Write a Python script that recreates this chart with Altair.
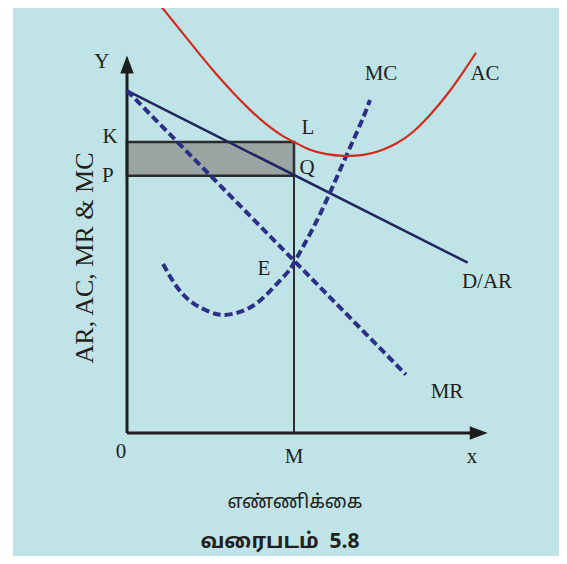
import altair as alt
import pandas as pd

# ---- values (economic units: quantity q, price p) ----
ar_q = [0.0, 20.4]
ar_p = [20.5, 10.2]

mr_q = [0.0, 16.7]
mr_p = [20.5, 3.5]

mc_q = [2.16, 2.99, 3.95, 4.97, 5.75, 6.77, 7.78, 8.74, 9.58, 10.0, 11.0, 12.0, 13.0, 14.0, 14.55]
mc_p = [10.12, 8.74, 7.78, 7.25, 7.07, 7.25, 7.78, 8.68, 9.58, 10.2, 12.0, 14.05, 16.3, 18.55, 19.94]

ac_q = [2.08, 3.37, 4.37, 5.37, 6.37, 7.37, 8.37, 9.36, 10.0, 10.96, 11.96, 12.95, 14.15,
        15.15, 16.15, 17.14, 18.14, 19.14, 20.14, 20.90]
ac_p = [25.5, 23.9, 22.66, 21.47, 20.36, 19.35, 18.46, 17.76, 17.43, 16.96, 16.70, 16.60, 16.65,
        16.90, 17.35, 18.04, 19.04, 20.24, 21.63, 22.77]

M_q = 10.0
K_p = 17.43
P_p = 15.4
y_axis_tip = 22.6
x_axis_tip = 21.6

point_labels = ["Y", "K", "P", "0", "M", "x", "L", "Q", "E", "MC", "AC", "D/AR", "MR"]
label_q = [-1.50, -1.02, -1.14, -0.36, 10.0, 20.66, 10.84, 10.78, 8.2, 15.21, 21.44, 21.56, 19.16]
label_p = [22.22, 17.72, 15.39, -1.14, -1.44, -1.44, 18.26, 15.87, 9.82, 21.5, 21.5, 9.04, 2.46]

y_title = "AR, AC, MR & MC"
x_title = "எண்ணிக்கை"
fig_title = "வரைபடம்\u00a0\u00a05.8"

# ---- layout ----
W, H = 551, 548
ORIGIN_X, ORIGIN_Y, UNIT = 119, 425, 16.7
xs = alt.Scale(domain=[-ORIGIN_X / UNIT, (W - ORIGIN_X) / UNIT], nice=False, zero=False)
ys = alt.Scale(domain=[-(H - ORIGIN_Y) / UNIT, ORIGIN_Y / UNIT], nice=False, zero=False)

NAVY = "#2b2f86"
DARK = "#1e1e1e"
TXT = "#231f20"
SERIF = "Liberation Serif"
TAMIL = "Noto Sans Tamil, Noto Serif Tamil, Noto Sans, sans-serif"
ARROW_LEN = 18 / UNIT


def X(f="q"):
    return alt.X(f + ":Q", scale=xs, axis=None)


def Y(f="p"):
    return alt.Y(f + ":Q", scale=ys, axis=None)


dummy = pd.DataFrame({"a": [0]})

strip = alt.Chart(dummy).mark_rect(color="white").encode(
    x=alt.value(0), x2=alt.value(5), y=alt.value(0), y2=alt.value(H)
)

rect_df = pd.DataFrame({"q": [0.0], "q2": [M_q], "p": [P_p], "p2": [K_p]})
shade = alt.Chart(rect_df).mark_rect(fill="#9aa5a3", stroke="#2b2b2b", strokeWidth=2.5).encode(
    x=X(), x2="q2:Q", y=Y(), y2="p2:Q"
)

mline_df = pd.DataFrame({"q": [M_q], "q2": [M_q], "p": [0.0], "p2": [K_p]})
mline = alt.Chart(mline_df).mark_rule(color="#2e2e2e", strokeWidth=2).encode(
    x=X(), x2="q2:Q", y=Y(), y2="p2:Q"
)

axes_df = pd.DataFrame({
    "q": [0.0, 0.0], "q2": [0.0, x_axis_tip - ARROW_LEN + 0.2],
    "p": [0.0, 0.0], "p2": [y_axis_tip - ARROW_LEN + 0.2, 0.0],
})
axes = alt.Chart(axes_df).mark_rule(color=DARK, strokeWidth=3).encode(
    x=X(), x2="q2:Q", y=Y(), y2="p2:Q"
)

yarrow = alt.Chart(pd.DataFrame({"q": [0.0], "p": [y_axis_tip]})).mark_point(
    shape="M0,0L0.75,2L-0.75,2Z", size=324, filled=True, color=DARK, opacity=1
).encode(x=X(), y=Y())
xarrow = alt.Chart(pd.DataFrame({"q": [x_axis_tip], "p": [0.0]})).mark_point(
    shape="M0,0L-2,-0.75L-2,0.75Z", size=324, filled=True, color=DARK, opacity=1
).encode(x=X(), y=Y())

ar = alt.Chart(pd.DataFrame({"q": ar_q, "p": ar_p})).mark_line(
    color="#23265f", strokeWidth=2.5
).encode(x=X(), y=Y())

mr = alt.Chart(pd.DataFrame({"q": mr_q, "p": mr_p})).mark_line(
    color=NAVY, strokeWidth=4, strokeDash=[8, 4]
).encode(x=X(), y=Y())

mc = alt.Chart(pd.DataFrame({"q": mc_q, "p": mc_p})).mark_line(
    color=NAVY, strokeWidth=4, strokeDash=[8, 4], interpolate="natural"
).encode(x=X(), y=Y())

ac = alt.Chart(pd.DataFrame({"q": ac_q, "p": ac_p})).mark_line(
    color="#d42a1e", strokeWidth=2.2, interpolate="natural"
).encode(x=X(), y=Y())

labels = alt.Chart(pd.DataFrame({"q": label_q, "p": label_p, "t": point_labels})).mark_text(
    font=SERIF, fontSize=21, color=TXT, align="center", baseline="middle"
).encode(x=X(), y=Y(), text="t:N")

ytitle = alt.Chart(pd.DataFrame({"q": [-2.51], "p": [10.48], "t": [y_title]})).mark_text(
    font=SERIF, fontSize=26, color=TXT, angle=270, align="center", baseline="middle"
).encode(x=X(), y=Y(), text="t:N")

xtitle = alt.Chart(pd.DataFrame({"q": [10.06], "p": [-4.13], "t": [x_title]})).mark_text(
    font=TAMIL, fontSize=19, color=TXT, align="center", baseline="middle"
).encode(x=X(), y=Y(), text="t:N")

ftitle = alt.Chart(pd.DataFrame({"q": [9.16], "p": [-6.53], "t": [fig_title]})).mark_text(
    font=TAMIL, fontSize=21, fontWeight="bold", color=TXT,
    align="center", baseline="middle"
).encode(x=X(), y=Y(), text="t:N")

chart = alt.layer(
    strip, shade, mline, axes, ar, mr, mc, ac, yarrow, xarrow, labels, ytitle, xtitle, ftitle
).properties(
    width=W, height=H, padding=0, autosize="none", background="#bfe3e6"
).configure_view(stroke=None)

chart.save("out.html", embed_options={"renderer": "svg", "actions": False})
